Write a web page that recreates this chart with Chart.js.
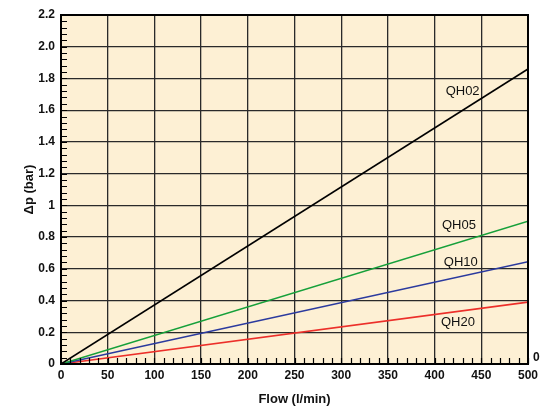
<!DOCTYPE html>
<html>
<head>
<meta charset="utf-8">
<script src="https://cdn.jsdelivr.net/npm/chart.js@4.4.0/dist/chart.umd.min.js"></script>
<style>
  html, body { margin: 0; padding: 0; background: #fff; }
  #wrap { width: 550px; height: 407px; }
</style>
</head>
<body>
<div id="wrap"><canvas id="myChart"></canvas></div>
<script>
// flow in l/min, pressure drop in bar
const flow = [0, 500];
const qh02 = [0, 1.86];
const qh05 = [0, 0.90];
const qh10 = [0, 0.645];
const qh20 = [0, 0.39];

const seriesNames = ['QH02', 'QH05', 'QH10', 'QH20'];
const seriesColors = ['#000000', '#16a03a', '#2b3a9e', '#ec2f2a'];
// where each name sits, in data units (flow, bar)
const labelFlow = [430, 426, 428, 425];
const labelBar = [1.72, 0.876, 0.643, 0.265];

const yTickLabels = ['0', '0.2', '0.4', '0.6', '0.8', '1', '1.2', '1.4', '1.6', '1.8', '2.0', '2.2'];
const xTickLabels = ['0', '50', '100', '150', '200', '250', '300', '350', '400', '450', '500'];

const font = 'Liberation Sans, Arial, Helvetica, sans-serif';

function toPoints(ys) {
    return ys.map(function (y, k) { return { x: flow[k], y: y }; });
}

const plotBg = {
    id: 'plotBg',
    beforeDraw(chart) {
        const a = chart.chartArea;
        const ctx = chart.ctx;
        ctx.save();
        ctx.fillStyle = '#fdf0d4';
        ctx.fillRect(a.left, a.top, a.right - a.left, a.bottom - a.top);
        ctx.restore();
    }
};

const extras = {
    id: 'extras',
    afterDatasetsDraw(chart) {
        const ctx = chart.ctx;
        const xs = chart.scales.x;
        const ys = chart.scales.y;
        const a = chart.chartArea;
        ctx.save();
        // minor ticks
        ctx.strokeStyle = '#000';
        ctx.lineWidth = 1.2;
        ctx.beginPath();
        for (let v = 0; v <= 2.2001; v += 0.04) {
            const py = Math.round(ys.getPixelForValue(v)) + 0.5;
            ctx.moveTo(a.left, py);
            ctx.lineTo(a.left + 6, py);
        }
        for (let v = 0; v <= 500; v += 10) {
            const px = Math.round(xs.getPixelForValue(v)) + 0.5;
            ctx.moveTo(px, a.bottom);
            ctx.lineTo(px, a.bottom - 6);
        }
        ctx.stroke();
        // border
        ctx.strokeStyle = '#000';
        ctx.lineWidth = 2;
        ctx.strokeRect(a.left, a.top, a.right - a.left, a.bottom - a.top);
        // series names
        ctx.fillStyle = '#111';
        ctx.font = '13px ' + font;
        ctx.textAlign = 'center';
        ctx.textBaseline = 'middle';
        for (let k = 0; k < seriesNames.length; k++) {
            ctx.fillText(seriesNames[k], xs.getPixelForValue(labelFlow[k]), ys.getPixelForValue(labelBar[k]));
        }
        // right-hand zero
        ctx.font = 'bold 12px ' + font;
        ctx.textAlign = 'left';
        ctx.fillText('0', a.right + 5, ys.getPixelForValue(0) - 6);
        ctx.restore();
    }
};

const datasets = [qh02, qh05, qh10, qh20].map(function (ys, k) {
    return {
        label: seriesNames[k],
        data: toPoints(ys),
        borderColor: seriesColors[k],
        borderWidth: 1.6,
        pointRadius: 0,
        fill: false,
        tension: 0
    };
});

const ctx = document.getElementById('myChart').getContext('2d');
const myChart = new Chart(ctx, {
    type: 'line',
    data: { datasets: datasets },
    plugins: [plotBg, extras],
    options: {
        responsive: true,
        maintainAspectRatio: false,
        animation: false,
        layout: { padding: { left: 22, right: 22, top: 15, bottom: 0 } },
        plugins: {
            legend: { display: false },
            tooltip: { enabled: false }
        },
        scales: {
            x: {
                type: 'linear',
                min: 0,
                max: 500,
                afterFit(scale) { scale.height = 43; },
                afterBuildTicks(scale) {
                    scale.ticks = xTickLabels.map(function (t) { return { value: Number(t) }; });
                },
                ticks: {
                    color: '#111',
                    padding: 4,
                    maxRotation: 0,
                    font: { family: font, size: 12, weight: 'bold' },
                    callback: function (value, index) { return xTickLabels[index]; }
                },
                grid: { color: '#2a2a2a', lineWidth: 1.3, drawTicks: false },
                border: { display: false },
                title: {
                    display: true,
                    text: 'Flow (l/min)',
                    color: '#111',
                    padding: { top: 6, bottom: 0 },
                    font: { family: font, size: 13, weight: 'bold' }
                }
            },
            y: {
                type: 'linear',
                min: 0,
                max: 2.2,
                afterFit(scale) { scale.width = 39; },
                afterBuildTicks(scale) {
                    scale.ticks = yTickLabels.map(function (t) { return { value: Number(t) }; });
                },
                ticks: {
                    color: '#111',
                    padding: 6,
                    font: { family: font, size: 12, weight: 'bold' },
                    callback: function (value, index) { return yTickLabels[index]; }
                },
                grid: { color: '#2a2a2a', lineWidth: 1.3, drawTicks: false },
                border: { display: false },
                title: {
                    display: true,
                    text: '\u0394p (bar)',
                    color: '#111',
                    padding: { top: 0, bottom: 0 },
                    font: { family: font, size: 13, weight: 'bold' }
                }
            }
        }
    }
});
</script>
</body>
</html>
